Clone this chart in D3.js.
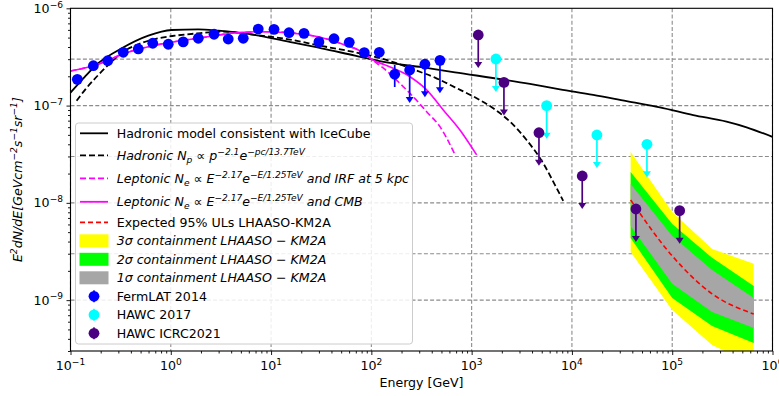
<!DOCTYPE html>
<html>
<head>
<meta charset="utf-8">
<script src="https://cdn.jsdelivr.net/npm/d3@7"></script>
<style>
  body { margin: 0; background: #fff; }
  text { font-family: "DejaVu Sans", sans-serif; }
</style>
</head>
<body>
<svg id="chart" width="779" height="396"></svg>
<script>
// ---- data (energy in GeV, E^2 dN/dE) ----
const fermiE = [0.117, 0.169, 0.235, 0.336, 0.474, 0.661, 0.944, 1.33, 1.88, 2.70, 3.74, 5.28, 7.45, 10.7, 15.1, 21.3, 30.0, 42.4, 60.2, 85.0, 120, 171];
const fermiF = [1.86e-7, 2.57e-7, 2.89e-7, 3.53e-7, 3.82e-7, 4.37e-7, 4.27e-7, 4.51e-7, 4.92e-7, 5.41e-7, 4.83e-7, 4.92e-7, 6.12e-7, 6.08e-7, 5.61e-7, 5.53e-7, 4.51e-7, 4.87e-7, 4.47e-7, 3.50e-7, 3.53e-7, 2.10e-7];
const fermiErr = [{ E: 171, lo: 1.55e-7, hi: 2.61e-7 }];
const fermiUlE = [241, 342, 483];
const fermiUlF = [2.32e-7, 2.66e-7, 2.92e-7];

const hawc17E = [1746, 5598, 17750, 55980];
const hawc17F = [3.01e-7, 9.98e-8, 4.99e-8, 4.0e-8];

const hawc21E = [1164, 2099, 4690, 12670, 43450, 118600];
const hawc21F = [5.32e-7, 1.73e-7, 5.26e-8, 1.89e-8, 8.65e-9, 8.31e-9];

// hadronic model consistent with IceCube
const hadE = [0.1, 0.1395, 0.189, 0.324, 0.597, 1.02, 1.88, 2.98, 5.93, 14.9, 31.9, 68.7, 147, 318, 682, 3811, 7590, 16300, 35100, 75300, 1.62e5, 3.48e5, 5.52e5, 1e6];
const hadF = [1.36e-7, 1.99e-7, 2.72e-7, 3.88e-7, 5.23e-7, 5.98e-7, 6.08e-7, 5.89e-7, 5.45e-7, 4.54e-7, 3.88e-7, 3.26e-7, 2.76e-7, 2.48e-7, 2.20e-7, 1.67e-7, 1.47e-7, 1.29e-7, 1.11e-7, 9.6e-8, 8.0e-8, 6.84e-8, 5.98e-8, 4.76e-8];

// hadronic Np ~ p^-2.1 exp(-pc/13.7TeV)
const hadCutE = [0.115, 0.1395, 0.189, 0.258, 0.336, 0.474, 0.750, 1.10, 1.88, 3.22, 6.91, 14.9, 31.9, 68.7, 172, 272, 431, 682, 1122, 1641, 2410, 3532, 5175, 6765, 8185];
const hadCutF = [1.12e-7, 1.45e-7, 2.06e-7, 2.83e-7, 3.58e-7, 4.27e-7, 4.92e-7, 5.23e-7, 5.53e-7, 5.75e-7, 5.32e-7, 4.80e-7, 4.10e-7, 3.53e-7, 2.76e-7, 2.32e-7, 1.94e-7, 1.54e-7, 1.19e-7, 9.38e-8, 6.84e-8, 4.43e-8, 2.55e-8, 1.53e-8, 1.05e-8];

// leptonic, IRF at 5 kpc (dashed) and CMB (solid)
const lepIrfE = [0.1, 0.189, 0.349, 0.875, 1.88, 4.05, 8.69, 23.5, 54.5, 85, 100, 130, 193, 262, 356, 483, 671];
const lepIrfF = [2.27e-7, 2.66e-7, 3.45e-7, 4.37e-7, 4.92e-7, 5.53e-7, 5.75e-7, 5.32e-7, 4.20e-7, 3.45e-7, 3.0e-7, 2.45e-7, 1.69e-7, 1.23e-7, 8.65e-8, 6.07e-8, 3.24e-8];
const lepCmbE = [0.1, 0.189, 0.349, 0.875, 1.88, 4.05, 8.69, 23.5, 54.5, 85, 100, 137, 243, 356, 521, 764, 1122];
const lepCmbF = [2.27e-7, 2.66e-7, 3.45e-7, 4.37e-7, 4.92e-7, 5.53e-7, 5.75e-7, 5.32e-7, 4.20e-7, 3.45e-7, 3.0e-7, 2.62e-7, 1.98e-7, 1.45e-7, 9.01e-8, 5.61e-8, 3.11e-8];

// LHAASO-KM2A expected ULs and containment bands
const bandE = [3.85e4, 1e5, 2.5e5, 6.5e5];
const expUL = [1.07e-8, 2.85e-9, 1.16e-9, 7.2e-10];
const s1Hi = [1.56e-8, 4.56e-9, 2.04e-9, 1.05e-9];
const s1Lo = [5.78e-9, 1.47e-9, 7.56e-10, 5.18e-10];
const s2Hi = [2.08e-8, 6.06e-9, 2.72e-9, 1.40e-9];
const s2Lo = [4.35e-9, 1.05e-9, 5.42e-10, 3.63e-10];
const s3Hi = [3.33e-8, 8.05e-9, 3.36e-9, 2.36e-9];
const s3Lo = [3.13e-9, 7.92e-10, 3.46e-10, 2.16e-10];

const xTicks = [0.1, 1, 10, 100, 1e3, 1e4, 1e5, 1e6];
const xTickExp = ["\u22121", "0", "1", "2", "3", "4", "5", "6"];
const yTicks = [1e-6, 1e-7, 1e-8, 1e-9];
const yTickExp = ["\u22126", "\u22127", "\u22128", "\u22129"];
const yGrid = [3e-7, 1e-7, 3e-8, 1e-8, 3e-9, 1e-9];

// ---- layout ----
const svg = d3.select("#chart");
const L = 70.5, R = 772.5, T = 8.3, B = 351;
const x = d3.scaleLog().domain([0.1, 1e6]).range([L, R]);
const y = d3.scaleLog().domain([3e-10, 1e-6]).range([B, T]);

svg.append("clipPath").attr("id", "clip")
  .append("rect").attr("x", L).attr("y", T).attr("width", R - L).attr("height", B - T);

// grid
const grid = svg.append("g").attr("stroke", "#8c8c8c").attr("stroke-width", 1.1)
  .attr("stroke-dasharray", "4,2.2").attr("fill", "none");
xTicks.forEach(v => grid.append("line").attr("x1", x(v)).attr("x2", x(v)).attr("y1", T).attr("y2", B));
yGrid.forEach(v => grid.append("line").attr("x1", L).attr("x2", R).attr("y1", y(v)).attr("y2", y(v)));

const plot = svg.append("g").attr("clip-path", "url(#clip)");

// bands
function band(lo, hi, color) {
  const a = d3.area().x((d, i) => x(bandE[i])).y0((d, i) => y(lo[i])).y1((d, i) => y(hi[i]));
  plot.append("path").attr("d", a(bandE)).attr("fill", color).attr("stroke", "none");
}
band(s3Lo, s3Hi, "#ffff00");
band(s2Lo, s2Hi, "#00ff00");
band(s1Lo, s1Hi, "#a6a6a6");

function curve(E, F, color, dash, width) {
  const line = d3.line().x((d, i) => x(E[i])).y((d, i) => y(F[i])).curve(d3.curveMonotoneX);
  plot.append("path").attr("d", line(E)).attr("fill", "none")
    .attr("stroke", color).attr("stroke-width", width)
    .attr("stroke-dasharray", dash);
}
curve(hadE, hadF, "#000", null, 1.8);
curve(hadCutE, hadCutF, "#000", "6,3", 1.8);
curve(lepIrfE, lepIrfF, "#ff00ff", "6,3", 1.6);
curve(lepCmbE, lepCmbF, "#ff00ff", null, 1.6);
curve(bandE, expUL, "#ff0000", "5,3", 1.6);

// points
const R_PT = 5.4, ARROW = 33;
function upperLimits(E, F, color) {
  E.forEach((e, i) => {
    const px = x(e), py = y(F[i]);
    plot.append("line").attr("x1", px).attr("x2", px).attr("y1", py).attr("y2", py + ARROW - 3)
      .attr("stroke", color).attr("stroke-width", 1.7);
    plot.append("path")
      .attr("d", `M${px - 4},${py + ARROW - 6}L${px + 4},${py + ARROW - 6}L${px},${py + ARROW}Z`)
      .attr("fill", color);
    plot.append("circle").attr("cx", px).attr("cy", py).attr("r", R_PT).attr("fill", color);
  });
}
fermiErr.forEach(d => {
  plot.append("line").attr("x1", x(d.E)).attr("x2", x(d.E)).attr("y1", y(d.lo)).attr("y2", y(d.hi))
    .attr("stroke", "#0000ff").attr("stroke-width", 1.7);
});
plot.selectAll(".fermi").data(fermiE).join("circle")
  .attr("cx", d => x(d)).attr("cy", (d, i) => y(fermiF[i])).attr("r", R_PT).attr("fill", "#0000ff");
upperLimits(fermiUlE, fermiUlF, "#0000ff");
upperLimits(hawc17E, hawc17F, "#00ffff");
upperLimits(hawc21E, hawc21F, "#4b0082");

// ---- axes ----
function addMath(t, parts, fs) {
  let shift = 0;
  parts.forEach(([s, m]) => {
    const target = m === "sup" ? -0.42 * fs : m === "sub" ? 0.22 * fs : 0;
    t.append("tspan").attr("dy", target - shift).attr("font-size", m ? fs * 0.72 : fs).text(s);
    shift = target;
  });
}

const fs = 12.6;
svg.append("g").attr("transform", `translate(0,${B})`)
  .call(d3.axisBottom(x).tickValues(xTicks).tickSize(4).tickFormat(""));
const xMinor = [];
xTicks.slice(0, -1).forEach(v => { for (let k = 2; k < 10; k++) xMinor.push(v * k); });
svg.append("g").attr("transform", `translate(0,${B})`)
  .call(d3.axisBottom(x).tickValues(xMinor).tickSize(2.5).tickFormat(""));
svg.append("g").attr("transform", `translate(${L},0)`)
  .call(d3.axisLeft(y).tickValues(yTicks).tickSize(4).tickFormat(""));
const yMinor = [];
[1e-10, 1e-9, 1e-8, 1e-7].forEach(v => { for (let k = 2; k < 10; k++) if (v * k >= 3e-10) yMinor.push(v * k); });
svg.append("g").attr("transform", `translate(${L},0)`)
  .call(d3.axisLeft(y).tickValues(yMinor).tickSize(2.5).tickFormat(""));
svg.selectAll(".domain").remove();
svg.selectAll(".tick line").attr("stroke", "#000").attr("stroke-width", 0.9);

xTicks.forEach((v, i) => {
  const t = svg.append("text").attr("x", x(v)).attr("y", 370).attr("text-anchor", "middle").attr("font-size", fs);
  addMath(t, [["10", ""], [xTickExp[i], "sup"]], fs);
});
yTicks.forEach((v, i) => {
  const t = svg.append("text").attr("x", 63).attr("y", y(v) + 4.6).attr("text-anchor", "end").attr("font-size", fs);
  addMath(t, [["10", ""], [yTickExp[i], "sup"]], fs);
});

svg.append("rect").attr("x", L).attr("y", T).attr("width", R - L).attr("height", B - T)
  .attr("fill", "none").attr("stroke", "#000").attr("stroke-width", 1.1);

svg.append("text").attr("x", (L + R) / 2).attr("y", 387).attr("text-anchor", "middle")
  .attr("font-size", fs).text("Energy [GeV]");
const yl = svg.append("text").attr("transform", `translate(22,${(T + B) / 2}) rotate(-90)`)
  .attr("text-anchor", "middle").attr("font-size", fs).attr("font-style", "italic");
addMath(yl, [["E", ""], ["2", "sup"], ["dN/dE[GeVcm", ""], ["\u22122", "sup"], ["s", ""], ["\u22121", "sup"], ["sr", ""], ["\u22121", "sup"], ["]", ""]], fs);

// ---- legend ----
const lepParts = [["Leptonic N", ""], ["e", "sub"], [" \u221d E", ""], ["\u22122.17", "sup"], ["e", ""], ["\u2212E/1.25TeV", "sup"]];
const legendRows = [
  { kind: "line", color: "#000", italic: false, parts: [["Hadronic model consistent with IceCube", ""]] },
  { kind: "line", color: "#000", dash: "6,3", italic: true, parts: [["Hadronic N", ""], ["p", "sub"], [" \u221d p", ""], ["\u22122.1", "sup"], ["e", ""], ["\u2212pc/13.7TeV", "sup"]] },
  { kind: "line", color: "#ff00ff", dash: "6,3", italic: true, parts: lepParts.concat([[" and IRF at 5 kpc", ""]]) },
  { kind: "line", color: "#ff00ff", italic: true, parts: lepParts.concat([[" and CMB", ""]]) },
  { kind: "line", color: "#ff0000", dash: "5,3", italic: false, parts: [["Expected 95% ULs LHAASO-KM2A", ""]] },
  { kind: "patch", color: "#ffff00", italic: true, parts: [["3\u03c3 containment LHAASO \u2212 KM2A", ""]] },
  { kind: "patch", color: "#00ff00", italic: true, parts: [["2\u03c3 containment LHAASO \u2212 KM2A", ""]] },
  { kind: "patch", color: "#a6a6a6", italic: true, parts: [["1\u03c3 containment LHAASO \u2212 KM2A", ""]] },
  { kind: "point", color: "#0000ff", italic: false, parts: [["FermLAT 2014", ""]] },
  { kind: "point", color: "#00ffff", italic: false, parts: [["HAWC 2017", ""]] },
  { kind: "point", color: "#4b0082", italic: false, parts: [["HAWC ICRC2021", ""]] }
];
const rowGap = [0, 22, 23, 23.5, 20.5, 18.5, 18.5, 18.5, 18.5, 18.5, 18.5];

const leg = svg.append("g");
leg.append("rect").attr("x", 75.5).attr("y", 123).attr("width", 337).attr("height", 221).attr("rx", 3)
  .attr("fill", "#fff").attr("fill-opacity", 0.85).attr("stroke", "#cccccc").attr("stroke-width", 1);
let ry = 133.3;
legendRows.forEach((r, i) => {
  ry += rowGap[i];
  if (r.kind === "line") {
    leg.append("line").attr("x1", 80).attr("x2", 108).attr("y1", ry).attr("y2", ry)
      .attr("stroke", r.color).attr("stroke-width", 1.8).attr("stroke-dasharray", r.dash || null);
  } else if (r.kind === "patch") {
    leg.append("rect").attr("x", 79.5).attr("y", ry - 6.5).attr("width", 29).attr("height", 13).attr("fill", r.color);
  } else {
    leg.append("line").attr("x1", 94).attr("x2", 94).attr("y1", ry - 6).attr("y2", ry + 6)
      .attr("stroke", r.color).attr("stroke-width", 1.5);
    leg.append("circle").attr("cx", 94).attr("cy", ry).attr("r", R_PT).attr("fill", r.color);
  }
  const t = leg.append("text").attr("x", 116.7).attr("y", ry + 4.5).attr("font-size", fs)
    .attr("font-style", r.italic ? "italic" : null);
  addMath(t, r.parts, fs);
});
</script>
</body>
</html>
